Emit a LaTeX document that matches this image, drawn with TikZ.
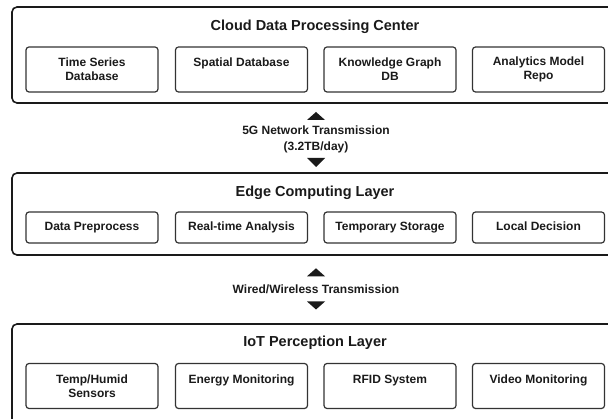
\documentclass[tikz,border=0pt]{standalone}
\usepackage{fontspec}
\setmainfont{Liberation Sans}
\definecolor{ink}{HTML}{1A1A1A}
\definecolor{boxline}{HTML}{333333}
\begin{document}
\begin{tikzpicture}[x=1pt,y=-1pt,
  layerbox/.style={draw=ink, line width=1.6pt, rounded corners=5pt, minimum width=606pt, inner sep=0pt},
  unitbox/.style={draw=boxline, line width=1.2pt, rounded corners=3pt, minimum width=132pt, inner sep=0pt, align=center, text=ink, font=\fontsize{12}{14}\selectfont\bfseries},
  tallunit/.style={unitbox, minimum height=45pt},
  flatunit/.style={unitbox, minimum height=31pt, text height=9pt, text depth=2.6pt},
  layertitle/.style={text=ink, font=\fontsize{14.5}{17}\selectfont\bfseries, inner sep=0pt},
  linklabel/.style={text=ink, align=center, inner sep=0pt, font=\fontsize{12}{16.7}\selectfont\bfseries},
]
\useasboundingbox (0,0) rectangle (608,419);
\clip (0,0) rectangle (608,419);

% Cloud layer
\node[layerbox, minimum height=96pt] (cloud) at (315,55) {};
\node[layertitle] (cloudt) at (315,27) {Cloud Data Processing Center};
\node[tallunit] (c1) at (92,69.5) {Time Series\\Database};
\node[tallunit] (c2) at (241.5,69.5) {Spatial Database\\\phantom{X}};
\node[tallunit] (c3) at (390,69.5) {Knowledge Graph\\DB};
\node[tallunit] (c4) at (538.5,69.5) {Analytics Model\\Repo};

% link 1
\coordinate (u1) at (316,116);
\coordinate (d1) at (316,162.5);
\fill[ink] (u1) ++(0,-4) -- ++(9,8) -- ++(-18,0) -- cycle;
\fill[ink] (d1) ++(0,4.5) -- ++(9,-9) -- ++(-18,0) -- cycle;
\node[linklabel] (l1) at (316,139.5) {5G Network Transmission\\(3.2TB/day)};

% Edge layer
\node[layerbox, minimum height=82pt] (edge) at (315,214) {};
\node[layertitle] (edget) at (315,193) {Edge Computing Layer};
\node[flatunit] (e1) at (92,227.5) {Data Preprocess};
\node[flatunit] (e2) at (241.5,227.5) {Real-time Analysis};
\node[flatunit] (e3) at (390,227.5) {Temporary Storage};
\node[flatunit] (e4) at (538.5,227.5) {Local Decision};

% link 2
\coordinate (u2) at (316,272.3);
\coordinate (d2) at (316,305.5);
\fill[ink] (u2) ++(0,-4) -- ++(9,8) -- ++(-18,0) -- cycle;
\fill[ink] (d2) ++(0,4) -- ++(9,-8) -- ++(-18,0) -- cycle;
\node[linklabel] (l2) at (316,289) {Wired/Wireless Transmission};

% IoT layer
\node[layerbox, minimum height=110pt] (iot) at (315,379) {};
\node[layertitle] (iott) at (315,343) {IoT Perception Layer};
\node[tallunit] (i1) at (92,386) {Temp/Humid\\Sensors};
\node[tallunit] (i2) at (241.5,386) {Energy Monitoring\\\phantom{X}};
\node[tallunit] (i3) at (390,386) {RFID System\\\phantom{X}};
\node[tallunit] (i4) at (538.5,386) {Video Monitoring\\\phantom{X}};
\end{tikzpicture}
\end{document}
